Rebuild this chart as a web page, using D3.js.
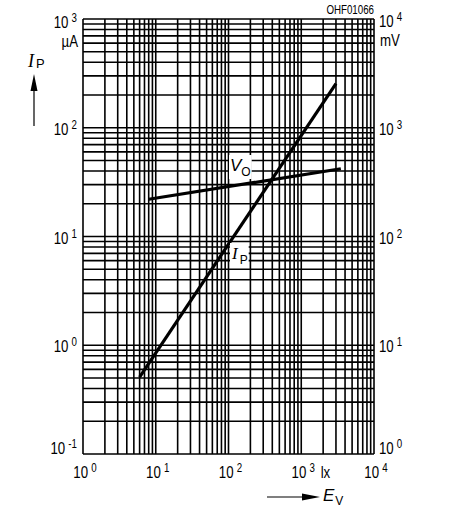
<!DOCTYPE html>
<html>
<head>
<meta charset="utf-8">
<title>Photocurrent and open-circuit voltage vs illuminance</title>
<script src="https://d3js.org/d3.v7.min.js"></script>
<style>
  body { margin: 0; background: #fff; }
  text { font-family: "Liberation Sans", Arial, sans-serif; fill: #000; }
</style>
</head>
<body>
<svg width="450" height="515"></svg>
<script>
// illuminance E_V (lx) and the two curves
var ipLux    = [6, 3000];      // photocurrent line, lx
var ipValues = [0.51, 255];    // I_P in µA
var voLux    = [8, 3500];      // open-circuit voltage line, lx
var voValues = [220, 420];     // V_O in mV

// decade tick labels (exponents of 10)
var xExponents      = ["0", "1", "2", "3", "4"];
var yLeftExponents  = ["-1", "0", "1", "2", "3"];
var yRightExponents = ["0", "1", "2", "3", "4"];

var svg = d3.select("svg");

var plotLeft = 83, plotRight = 374, plotTop = 19, plotBottom = 454;

var x = d3.scaleLog().domain([1, 1e4]).range([plotLeft, plotRight]);
var yL = d3.scaleLog().domain([0.1, 1000]).range([plotBottom, plotTop]);   // µA
var yR = d3.scaleLog().domain([1, 1e4]).range([plotBottom, plotTop]);      // mV

// every 1..9 line in each decade
function decadeLines(scale) {
  var d = scale.domain(), out = [];
  for (var e = Math.round(Math.log10(d[0])); e <= Math.round(Math.log10(d[1])); e++) {
    for (var m = 1; m <= 9; m++) {
      var v = m * Math.pow(10, e);
      if (v <= d[1] * 1.0001) out.push(v);
    }
  }
  return out;
}

var grid = svg.append("g").attr("stroke", "#000").attr("stroke-width", 1.6);

grid.selectAll("line.v")
  .data(decadeLines(x))
  .enter().append("line")
    .attr("class", "v")
    .attr("x1", function(d) { return x(d); })
    .attr("x2", function(d) { return x(d); })
    .attr("y1", plotTop)
    .attr("y2", plotBottom);

grid.selectAll("line.h")
  .data(decadeLines(yL))
  .enter().append("line")
    .attr("class", "h")
    .attr("x1", plotLeft)
    .attr("x2", plotRight)
    .attr("y1", function(d) { return yL(d); })
    .attr("y2", function(d) { return yL(d); });

// curves
var ipLine = d3.line()
  .x(function(d, i) { return x(ipLux[i]); })
  .y(function(d) { return yL(d); });
var voLine = d3.line()
  .x(function(d, i) { return x(voLux[i]); })
  .y(function(d) { return yR(d); });

svg.append("path").attr("d", ipLine(ipValues))
  .attr("fill", "none").attr("stroke", "#000").attr("stroke-width", 3.2);
svg.append("path").attr("d", voLine(voValues))
  .attr("fill", "none").attr("stroke", "#000").attr("stroke-width", 3.2);

var labels = svg.append("g");

// narrow text: squeeze the sans horizontally like the original lettering
function narrowText(g, xPos, yPos, size, anchor) {
  return g.append("text")
    .attr("transform", "translate(" + xPos + "," + yPos + ") scale(0.78,1)")
    .attr("font-size", size)
    .attr("text-anchor", anchor || "start");
}

// power-of-ten label helper
function powLabel(g, xPos, yPos, exp, anchor) {
  var t = narrowText(g, xPos, yPos, 17, anchor);
  t.append("tspan").text("10");
  t.append("tspan").attr("dx", 4).attr("dy", -6).attr("font-size", 12.5).text(exp);
  return t;
}

// left axis (µA)
yLeftExponents.forEach(function(e, i) {
  var v = Math.pow(10, +e);
  var yy = yL(v) + (i == 0 ? 0 : 7);
  if (i == yLeftExponents.length - 1) yy = yL(v) + 9;
  powLabel(labels, 77, yy, e, "end");
});
narrowText(labels, 78, 47, 17, "end").text("µA");

// right axis (mV)
yRightExponents.forEach(function(e, i) {
  var v = Math.pow(10, +e);
  var yy = yR(v) + (i == 0 ? 0 : 7);
  if (i == yRightExponents.length - 1) yy = yR(v) + 8;
  powLabel(labels, 379, yy, e, "start");
});
narrowText(labels, 380, 46, 17, "start").text("mV");

// bottom axis (lx)
xExponents.forEach(function(e) {
  powLabel(labels, x(Math.pow(10, +e)) + 2, 478, e, "middle");
});
narrowText(labels, x(2150), 478, 17, "middle").text("lx");

// figure code
narrowText(labels, 374, 14, 12.5, "end").text("OHF01066");

// curve labels on white patches
function curveLabel(xPos, yPos, main, sub, serif) {
  var bg = labels.append("rect").attr("fill", "#fff");
  var t = labels.append("text").attr("x", xPos).attr("y", yPos).attr("font-size", 17);
  var m = t.append("tspan").attr("font-style", "italic").text(main);
  if (serif) m.attr("font-family", "Liberation Serif, serif");
  t.append("tspan").attr("dx", serif ? 2 : 0).attr("dy", 5).attr("font-size", 12).text(sub);
  var b = t.node().getBBox();
  bg.attr("x", b.x - 1).attr("y", b.y - 1).attr("width", b.width + 2).attr("height", b.height + 1);
}
curveLabel(230, 171, "V", "O", false);
curveLabel(232, 259, "I", "P", true);

// y-axis title with arrow
var yt = labels.append("text").attr("x", 28).attr("y", 67).attr("font-size", 18);
yt.append("tspan").attr("font-style", "italic").attr("font-family", "Liberation Serif, serif").text("I");
yt.append("tspan").attr("dx", 2).attr("dy", 1).attr("font-size", 13).text("P");

svg.append("line").attr("x1", 34).attr("x2", 34).attr("y1", 126).attr("y2", 86)
  .attr("stroke", "#000").attr("stroke-width", 1.2);
svg.append("path").attr("d", "M34,74 L30.5,91 L37.5,91 Z").attr("fill", "#000");

// x-axis title with arrow
svg.append("line").attr("x1", 267).attr("x2", 306).attr("y1", 497).attr("y2", 497)
  .attr("stroke", "#000").attr("stroke-width", 1.2);
svg.append("path").attr("d", "M320,497 L302,493.5 L302,500.5 Z").attr("fill", "#000");

var xt = labels.append("text").attr("x", 323).attr("y", 501).attr("font-size", 17);
xt.append("tspan").attr("font-style", "italic").text("E");
xt.append("tspan").attr("dx", 1).attr("dy", 4).attr("font-size", 12).text("V");
</script>
</body>
</html>
